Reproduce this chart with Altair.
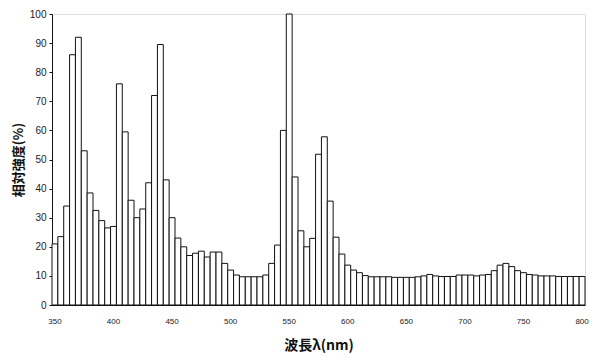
import altair as alt
import pandas as pd

wavelengths = list(range(350, 805, 5))
intensity = [
    21, 23.5, 34, 86, 92, 53, 38.5, 32.5, 29, 26.5,          # 350-395
    27, 76, 59.5, 36, 30, 33, 42, 72, 89.5, 43,              # 400-445
    30, 23, 20, 17, 17.8, 18.5, 16.5, 18.2, 18.2, 14.3,      # 450-495
    12, 10.3, 9.7, 9.7, 9.7, 9.7, 10.3, 14.3, 20.6, 60,      # 500-545
    100, 44, 25.5, 20, 22.9, 51.8, 57.8, 35.7, 23.3, 17.5,   # 550-595
    13.7, 12, 11.1, 10.1, 9.7, 9.7, 9.7, 9.7, 9.5, 9.5,      # 600-645
    9.5, 9.5, 9.7, 10, 10.5, 10, 9.8, 9.8, 9.8, 10.3,        # 650-695
    10.3, 10.3, 10, 10.3, 10.5, 11.8, 13.7, 14.3, 13.2, 11.8,  # 700-745
    11.1, 10.5, 10.3, 10, 10, 10, 9.8, 9.8, 9.8, 9.8,        # 750-795
    9.8,                                                     # 800
]
x_tick_values = list(range(350, 801, 50))
y_tick_values = list(range(0, 101, 10))

df = pd.DataFrame({"wavelength": wavelengths, "intensity": intensity})

label_font = "Liberation Sans"
cjk_font = "Noto Sans CJK JP"

chart = (
    alt.Chart(df)
    .mark_bar(fill="white", stroke="#111111", strokeWidth=1)
    .encode(
        x=alt.X(
            "wavelength:O",
            scale=alt.Scale(paddingInner=0, paddingOuter=0),
            axis=alt.Axis(
                values=x_tick_values,
                labelAngle=0,
                ticks=False,
                labelFont=label_font,
                labelFontSize=8,
                labelColor="#222222",
                labelPadding=12,
                domainColor="#111111",
                title="波長λ(nm)",
                titleFont=cjk_font,
                titleFontSize=14,
                titleFontWeight="bold",
                titleColor="#111111",
                titleBaseline="middle",
                titleY=40,
            ),
        ),
        y=alt.Y(
            "intensity:Q",
            scale=alt.Scale(domain=[0, 100], nice=False),
            axis=alt.Axis(
                values=y_tick_values,
                grid=False,
                tickSize=3,
                tickColor="#111111",
                labelFont=label_font,
                labelFontSize=10,
                labelColor="#222222",
                labelPadding=3,
                domainColor="#111111",
                title="相対強度(%)",
                titleFont=cjk_font,
                titleFontSize=13,
                titleFontWeight="bold",
                titleColor="#111111",
                titleAngle=270,
                titleAlign="center",
                titleBaseline="middle",
                titleX=-34,
                titleY=145.5,
            ),
        ),
    )
    .properties(
        width=533,
        height=291,
        autosize=alt.AutoSizeParams(type="none"),
        padding={"left": 44, "top": 6, "right": 7, "bottom": 51},
    )
    .configure_view(stroke="#222222", strokeWidth=1)
    .configure(background="white")
)

chart.save("out.html", embed_options={"renderer": "svg", "actions": False})
